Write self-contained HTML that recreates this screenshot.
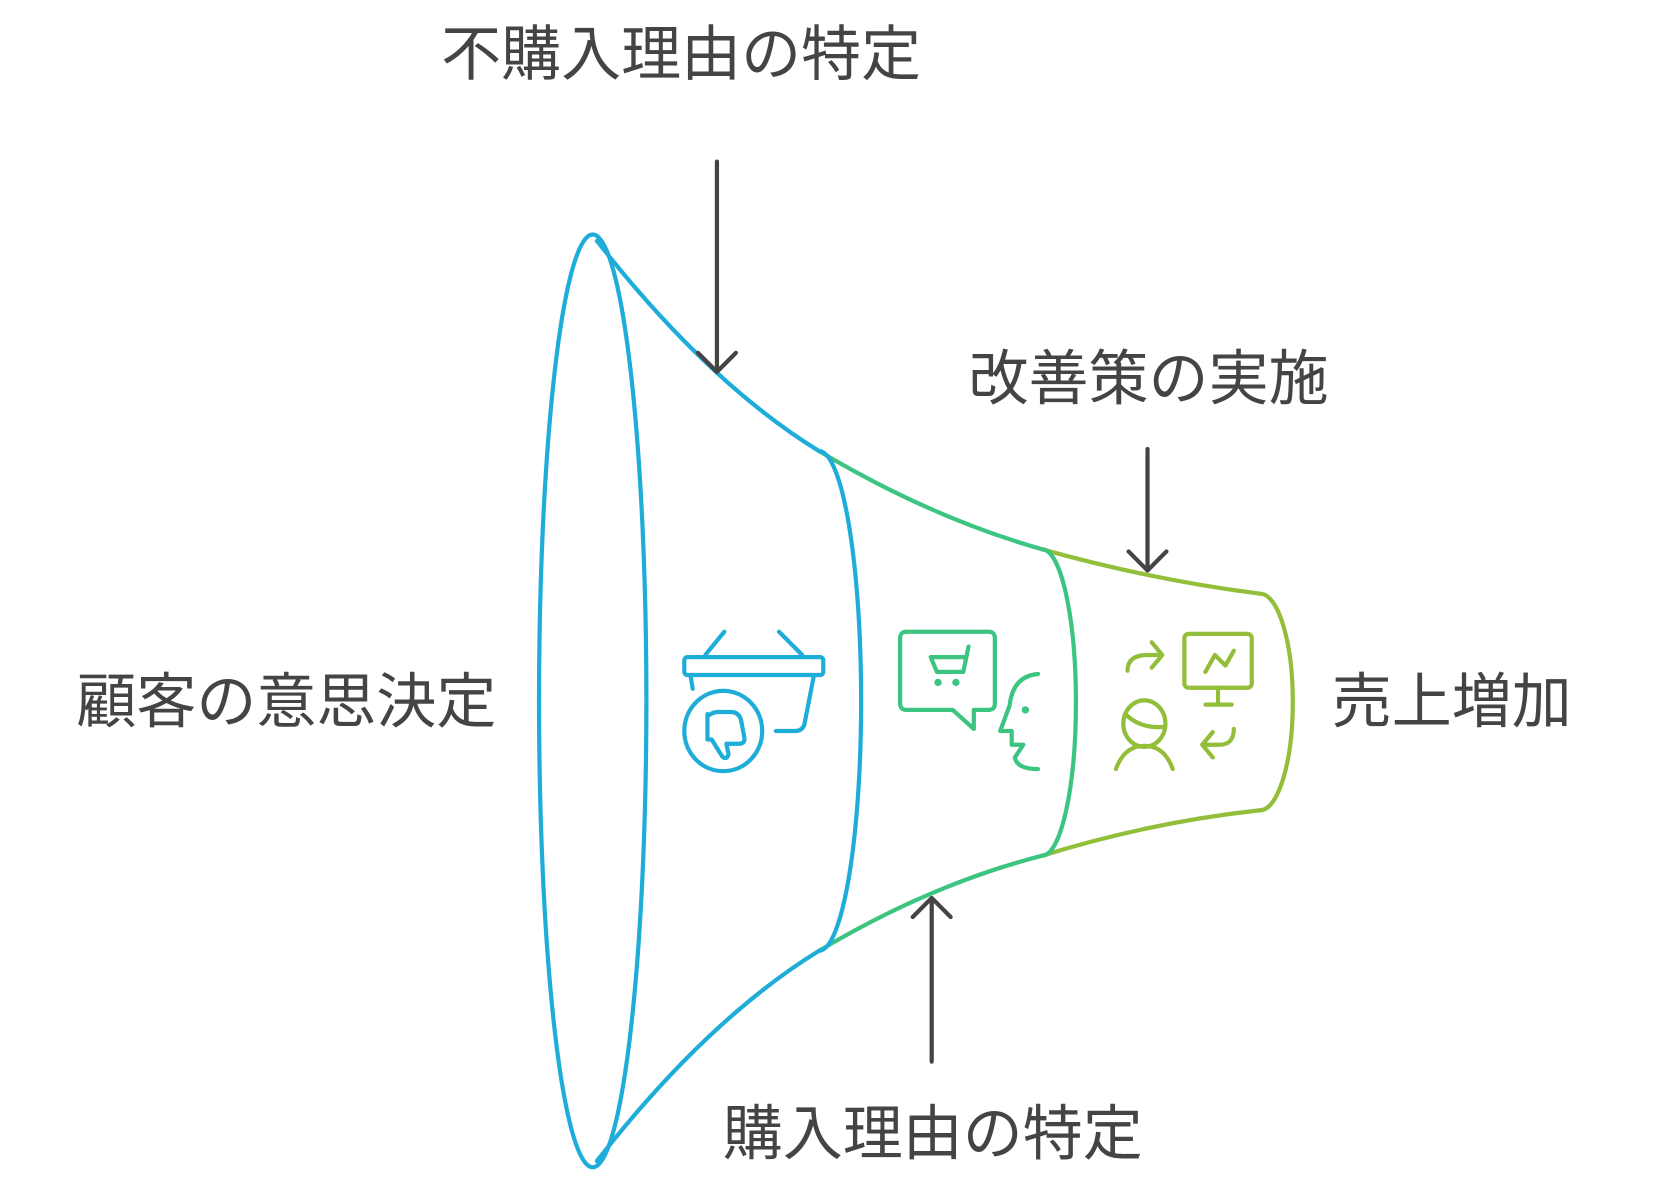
<!DOCTYPE html>
<html><head><meta charset="utf-8"><style>
html,body{margin:0;padding:0;background:#fff;}
svg{display:block;}
text{font-family:"Liberation Sans","Noto Sans CJK JP",sans-serif;fill:#444;font-size:57px;}
</style></head><body>
<svg width="1656" height="1180" viewBox="0 0 1573 1117" preserveAspectRatio="none" xmlns="http://www.w3.org/2000/svg">
<g fill="none" stroke-width="4" stroke-linecap="round" stroke-linejoin="round">
  <path d="M567,228 Q672,362 778,427" stroke="#1EADD9"/>
  <path d="M567,1099 Q672,965 778,900" stroke="#1EADD9"/>
  <path d="M778,427 Q884,490 990,520" stroke="#3CC481"/>
  <path d="M778,900 Q884,837 990,810" stroke="#3CC481"/>
  <path d="M990,520 Q1094,549 1197,562" stroke="#92BE3A"/>
  <path d="M990,810 Q1094,778 1197,767" stroke="#92BE3A"/>
  <ellipse cx="563" cy="663.5" rx="51" ry="441.5" stroke="#1EADD9"/>
  <path d="M778,427 A40,236.5 0 0 1 778,900" stroke="#1EADD9"/>
  <path d="M990,520 A32,145 0 0 1 990,810" stroke="#3CC481"/>
  <path d="M1197,562 A31,102.5 0 0 1 1197,767" stroke="#92BE3A"/>

  <g stroke="#444" stroke-width="4">
    <path d="M681,153 L681,352 M663,334 L681,352 L699,334"/>
    <path d="M1090,425 L1090,540 M1072,522 L1090,540 L1108,522"/>
    <path d="M885,1005 L885,850 M867,868 L885,850 L903,868"/>
  </g>

  <g stroke="#1EADD9" stroke-width="4">
    <path d="M670,620 L688,598 M740,598 L762,620"/>
    <rect x="650" y="622" width="132" height="17" rx="3"/>
    <path d="M656,640 L658,652 M773,640 L764,686 Q762,692 755,692 L737,692"/>
    <ellipse cx="687" cy="692" rx="37" ry="38"/>
    <path d="M672,676 L672,700 L676,700 L686,716 Q690,720 692,714 L690,704 L702,704 Q708,704 707,698 L704,682 Q702,674 694,674 L682,674 Q677,674 672,678"/>
  </g>

  <g stroke="#3CC481" stroke-width="4">
    <path d="M861,598 L939,598 Q945,598 945,604 L945,666 Q945,672 939,672 L925,672 L925,690 L905,672 L861,672 Q855,672 855,666 L855,604 Q855,598 861,598 Z"/>
    <path d="M920,612 L915,636 L890,636 L884,622 L918,622"/>
    <circle cx="891" cy="646" r="1.5" fill="#3CC481"/>
    <circle cx="908" cy="646" r="1.5" fill="#3CC481"/>
    <path d="M986,638 Q962,640 959,668 L950,692 L961,692 L961,705 L972,705 L964,717 Q966,728 986,728"/>
    <circle cx="974" cy="672" r="1.5" fill="#3CC481"/>
  </g>

  <g stroke="#92BE3A" stroke-width="4">
    <rect x="1125" y="600" width="64" height="51" rx="4"/>
    <path d="M1157,651 L1157,666 M1145,667 L1170,667"/>
    <path d="M1145,636 L1154,620 L1164,630 L1172,616"/>
    <path d="M1071,635 Q1071,620 1090,620 L1104,620 M1094,608 L1104,620 L1094,632"/>
    <ellipse cx="1087" cy="685" rx="20" ry="22"/>
    <path d="M1070,677 Q1084,690 1106,688"/>
    <path d="M1060,728 Q1068,706 1087,706 Q1106,706 1114,728"/>
    <path d="M1172,690 Q1172,705 1158,705 L1142,705 M1152,693 L1142,705 L1152,717"/>
  </g>
</g>

<text x="647" y="71" text-anchor="middle">不購入理由の特定</text>
<text x="1091" y="378" text-anchor="middle">改善策の実施</text>
<text x="272" y="684" text-anchor="middle">顧客の意思決定</text>
<text x="1379" y="684" text-anchor="middle">売上増加</text>
<text x="886" y="1093" text-anchor="middle">購入理由の特定</text>
</svg>
</body></html>
